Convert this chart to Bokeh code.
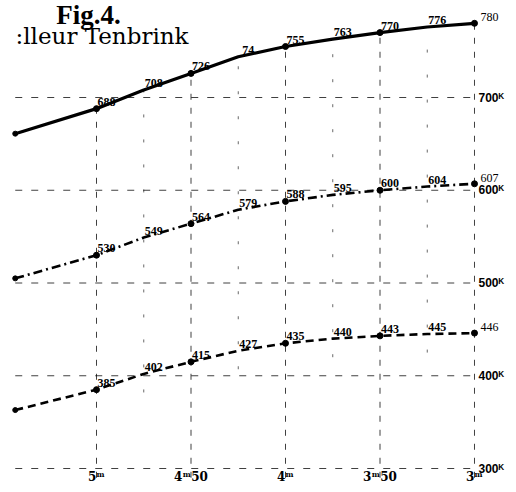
from bokeh.plotting import figure
from bokeh.models import Range1d, Label
from bokeh.core.properties import value
from bokeh.embed import file_html
from bokeh.resources import INLINE

# distance (m) -- axis reversed
dist = [5.43, 5.0, 4.75, 4.5, 4.25, 4.0, 3.75, 3.5, 3.25, 3.0]
top_vals = [661, 688, 708, 726, 744, 755, 763, 770, 776, 780]
mid_vals = [505, 530, 549, 564, 579, 588, 595, 600, 604, 607]
bot_vals = [363, 385, 402, 415, 427, 435, 440, 443, 445, 446]
top_labels = ["", "688", "708", "726", "74", "755", "763", "770", "776", "780"]
mid_labels = ["", "530", "549", "564", "579", "588", "595", "600", "604", "607"]
bot_labels = ["", "385", "402", "415", "427", "435", "440", "443", "445", "446"]

x_ticks = [5.0, 4.5, 4.0, 3.5, 3.0]
x_tick_labels = ["5ᵐ", "4ᵐ50", "4ᵐ", "3ᵐ50", "3ᵐ"]
y_ticks = [700, 600, 500, 400, 300]
y_tick_labels = ["700ᴷ", "600ᴷ", "500ᴷ", "400ᴷ", "300ᴷ"]

W, H = 508, 484
p = figure(width=W, height=H, output_backend="svg", toolbar_location=None,
           x_range=Range1d(5.508, 2.8201), y_range=Range1d(282.75, 804.6),
           x_axis_location=None, y_axis_location=None,
           min_border=0, min_border_left=0, min_border_right=0,
           min_border_top=0, min_border_bottom=0)
p.outline_line_color = None
p.grid.visible = False
p.background_fill_color = "white"

# horizontal dashed grid lines
p.segment(x0=[dist[0]] * len(y_ticks), x1=[3.0] * len(y_ticks), y0=y_ticks, y1=y_ticks,
          line_color="black", line_width=1, line_dash="7 9", line_alpha=0.75)
# vertical dashed lines at main marks, from bottom up to top curve
major_idx = [dist.index(t) for t in x_ticks]
p.segment(x0=x_ticks, x1=x_ticks, y0=[290] * 5, y1=[top_vals[i] for i in major_idx],
          line_color="black", line_width=1, line_dash="6 8", line_alpha=0.75)
# short intermediate verticals
minor = [d for d in dist[2:] if d not in x_ticks]
minor_top = [top_vals[dist.index(d)] for d in minor]
minor_bot = [bot_vals[dist.index(d)] for d in minor]
p.segment(x0=minor, x1=minor, y0=[v - 20 for v in minor_bot], y1=minor_top,
          line_color="black", line_width=1, line_dash="3 22", line_alpha=0.6)

# curves
p.line(dist, top_vals, line_color="black", line_width=3.2)
p.line(dist, mid_vals, line_color="black", line_width=2.6, line_dash="9 4 2 4")
p.line(dist, bot_vals, line_color="black", line_width=2.6, line_dash="8 5")

for vals in (top_vals, mid_vals, bot_vals):
    p.scatter([dist[i] for i in major_idx], [vals[i] for i in major_idx],
              size=6, color="black")
    p.scatter(dist[0:1], vals[0:1], size=5, color="black")

serif = value("Liberation Serif")
for vals, labs in ((top_vals, top_labels), (mid_vals, mid_labels), (bot_vals, bot_labels)):
    p.text(dist[1:-1], vals[1:-1], text=labs[1:-1], text_font=serif,
           text_font_size="12px", text_font_style="bold", text_color="black",
           text_align="center", text_baseline="bottom", x_offset=10, y_offset=-3)
    p.text(dist[-1:], vals[-1:], text=labs[-1:], text_font=serif,
           text_font_size="12px", text_color="black",
           text_align="left", text_baseline="bottom", x_offset=6, y_offset=-2)

# right-hand value labels
p.text([3.0] * 5, y_ticks, text=y_tick_labels, text_font=value("Liberation Sans"),
       text_font_size="12px", text_font_style="bold", text_color="black",
       text_align="left", text_baseline="middle", x_offset=4)
# bottom distance labels
p.text(x_ticks, [300] * 5, text=x_tick_labels, text_font=value("DejaVu Serif"),
       text_font_size="12px", text_font_style="bold", text_color="black",
       text_align="center", text_baseline="middle", y_offset=8)

p.add_layout(Label(x=88, y=H - 29, x_units="screen", y_units="screen", text="Fig.4.",
                   text_font="Liberation Serif", text_font_size="27px",
                   text_font_style="bold", text_align="center", text_color="black"))
p.add_layout(Label(x=15, y=H - 48, x_units="screen", y_units="screen",
                   text=":lleur Tenbrink", text_font="DejaVu Serif",
                   text_font_size="23px", text_align="left", text_color="black"))

open("out.html", "w").write(file_html(p, INLINE))
